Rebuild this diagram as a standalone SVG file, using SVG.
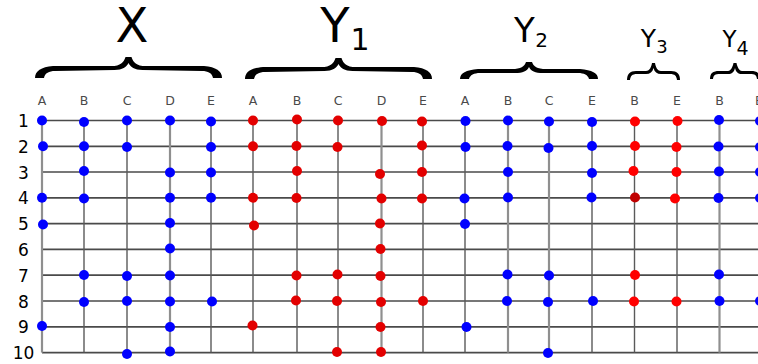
<svg xmlns="http://www.w3.org/2000/svg" width="758" height="364" viewBox="0 0 758 364">
<style>
.t{font-family:"DejaVu Sans","Liberation Sans",sans-serif;fill:#000;text-anchor:middle}
.cl{font-family:"DejaVu Sans","Liberation Sans",sans-serif;font-size:12.5px;fill:#4a4a4a;text-anchor:middle}
.rl{font-family:"DejaVu Sans","Liberation Sans",sans-serif;font-size:17px;fill:#000;text-anchor:middle}
.h{stroke:#4a4a4a;stroke-width:1.7}
.v{stroke:#5a5a5a;stroke-width:1.4}
.vl{stroke:#8f8f8f;stroke-width:2.2}
.b{fill:#0000ff}
.r{fill:#e30000}
.r2{fill:#ff0000}
.br{fill:#000}
</style>
<rect width="758" height="364" fill="#fff"/>

<g id="titles">
<text class="t" x="132" y="42" font-size="48">X</text>
<text class="t" x="335" y="42" font-size="48">Y</text>
<text class="t" x="360" y="50" font-size="30">1</text>
<text class="t" x="524.5" y="42" font-size="34">Y</text>
<text class="t" x="541.5" y="47" font-size="20">2</text>
<text class="t" x="648.5" y="47" font-size="25">Y</text>
<text class="t" x="662" y="53" font-size="18">3</text>
<text class="t" x="729.5" y="47" font-size="23">Y</text>
<text class="t" x="742.5" y="55" font-size="19">4</text>
</g>

<g id="braces" class="br">
<path transform="translate(35,57)" d="M0,21 C0,14 6,10 18,9 L79.5,9 C87.5,8 89.5,3 90.5,0 L96.5,0 C97.5,3 99.5,8 107.5,9 L169,9 C181,10 187,14 187,21 L178,21 C177,16 173,14 167,14 L107.5,13 C99.5,13 95.5,10 93.5,6 C91.5,10 87.5,13 79.5,13 L20,14 C14,14 10,16 9,21 Z"/>
<path transform="translate(245,58)" d="M0,21 C0,14 6,10 18,9 L79.5,9 C87.5,8 89.5,3 90.5,0 L96.5,0 C97.5,3 99.5,8 107.5,9 L169,9 C181,10 187,14 187,21 L178,21 C177,16 173,14 167,14 L107.5,13 C99.5,13 95.5,10 93.5,6 C91.5,10 87.5,13 79.5,13 L20,14 C14,14 10,16 9,21 Z"/>
<path transform="translate(460,62)" d="M0,17 C0,11 6,8 18,7 L55,7 C63,6 65,3 66,0 L72,0 C73,3 75,6 83,7 L120,7 C132,8 138,11 138,17 L129,17 C128,13 124,11 118,11 L83,11 C75,11 71,9 69,5 C67,9 63,11 55,11 L20,11 C14,11 10,13 9,17 Z"/>
<path transform="translate(627,63)" d="M0,17 C0,11 3,8 9,8 L19,8 C23,8 24.5,3 25,0 L28,0 C28.5,3 30,8 34,8 L44,8 C50,8 53,11 53,17 L50,17 C49.5,13 48,11 43,11 L34,11 C30,11 27.5,9 26.5,5 C25.5,9 23,11 19,11 L10,11 C5,11 3.5,13 3,17 Z"/>
<path transform="translate(710,63)" d="M0,16 C0,10 3,8 9,8 L18,8 C21,8 23,3 23.5,0 L26.5,0 C27,3 29,8 32,8 L41,8 C47,8 50,10 50,16 L47,16 C46.5,12 45,11 40,11 L32,11 C28,11 26,9 25,5 C24,9 22,11 18,11 L10,11 C5,11 3.5,12 3,16 Z"/>
</g>

<g id="column-labels">
<text class="cl" x="42" y="105">A</text><text class="cl" x="84" y="105">B</text><text class="cl" x="127" y="105">C</text><text class="cl" x="170" y="105">D</text><text class="cl" x="211" y="105">E</text>
<text class="cl" x="253" y="105">A</text><text class="cl" x="297" y="105">B</text><text class="cl" x="338" y="105">C</text><text class="cl" x="381.5" y="105">D</text><text class="cl" x="423" y="105">E</text>
<text class="cl" x="465" y="105">A</text><text class="cl" x="508" y="105">B</text><text class="cl" x="549" y="105">C</text><text class="cl" x="592" y="105">E</text>
<text class="cl" x="634.5" y="105">B</text><text class="cl" x="677" y="105">E</text>
<text class="cl" x="719.5" y="105">B</text><text class="cl" x="759" y="105">E</text>
</g>

<g id="row-labels">
<text class="rl" x="23.5" y="127">1</text>
<text class="rl" x="23.5" y="152.8">2</text>
<text class="rl" x="23.5" y="178.5">3</text>
<text class="rl" x="23.5" y="204.3">4</text>
<text class="rl" x="23.5" y="230.1">5</text>
<text class="rl" x="23.5" y="255.9">6</text>
<text class="rl" x="23.5" y="281.7">7</text>
<text class="rl" x="23.5" y="307.5">8</text>
<text class="rl" x="23.5" y="333.3">9</text>
<text class="rl" x="23.5" y="359.1">10</text>
</g>

<g id="connectors">
<g class="h">
<line x1="42" y1="120.5" x2="758" y2="120.5"/>
<line x1="42" y1="146.3" x2="758" y2="146.3"/>
<line x1="42" y1="172" x2="758" y2="172"/>
<line x1="42" y1="197.8" x2="758" y2="197.8"/>
<line x1="42" y1="223.6" x2="758" y2="223.6"/>
<line x1="42" y1="249.4" x2="758" y2="249.4"/>
<line x1="42" y1="275.2" x2="758" y2="275.2"/>
<line x1="42" y1="301" x2="758" y2="301"/>
<line x1="42" y1="326.8" x2="758" y2="326.8"/>
<line x1="42" y1="352.6" x2="758" y2="352.6"/>
</g>
<g class="vl">
<line x1="42" y1="120.5" x2="42" y2="352.6"/>
<line x1="170" y1="120.5" x2="170" y2="352.6"/>
<line x1="381.5" y1="120.5" x2="381.5" y2="352.6"/>
<line x1="508" y1="120.5" x2="508" y2="352.6"/>
<line x1="549" y1="120.5" x2="549" y2="352.6"/>
<line x1="719.5" y1="120.5" x2="719.5" y2="352.6"/>
</g>
<g class="v">
<line x1="84" y1="120.5" x2="84" y2="352.6"/>
<line x1="127" y1="120.5" x2="127" y2="352.6"/>
<line x1="211" y1="120.5" x2="211" y2="352.6"/>
<line x1="253" y1="120.5" x2="253" y2="352.6"/>
<line x1="297" y1="120.5" x2="297" y2="352.6"/>
<line x1="338" y1="120.5" x2="338" y2="352.6"/>
<line x1="423" y1="120.5" x2="423" y2="352.6"/>
<line x1="465" y1="120.5" x2="465" y2="352.6"/>
<line x1="592" y1="120.5" x2="592" y2="352.6"/>
<line x1="634.5" y1="120.5" x2="634.5" y2="352.6"/>
<line x1="677" y1="120.5" x2="677" y2="352.6"/>
</g>
</g>

<g id="dots-X" class="b">
<circle cx="42" cy="120.5" r="5"/><circle cx="84" cy="122" r="5"/><circle cx="127" cy="120.5" r="5"/><circle cx="170" cy="120.5" r="5"/><circle cx="211" cy="121.5" r="5"/>
<circle cx="43" cy="146.3" r="5"/><circle cx="84" cy="146.3" r="5"/><circle cx="127" cy="147" r="5"/><circle cx="211" cy="147" r="5"/>
<circle cx="84" cy="171" r="5"/><circle cx="170" cy="172.5" r="5"/><circle cx="211" cy="172.5" r="5"/>
<circle cx="42" cy="197.8" r="5"/><circle cx="84" cy="198.5" r="5"/><circle cx="170" cy="197.8" r="5"/><circle cx="211" cy="197.8" r="5"/>
<circle cx="43" cy="224.5" r="5"/><circle cx="170" cy="223" r="5"/>
<circle cx="170" cy="248.5" r="5"/>
<circle cx="84" cy="275" r="5"/><circle cx="127" cy="276" r="5"/><circle cx="170" cy="275.5" r="5"/>
<circle cx="84" cy="302" r="5"/><circle cx="127" cy="301" r="5"/><circle cx="170" cy="301.5" r="5"/><circle cx="212" cy="301.5" r="5"/>
<circle cx="42" cy="326" r="5"/><circle cx="170" cy="327" r="5"/>
<circle cx="127" cy="354" r="5"/><circle cx="170" cy="351.5" r="5"/>
</g>

<g id="dots-Y1" class="r">
<circle cx="253" cy="120.5" r="5"/><circle cx="297" cy="119.5" r="5"/><circle cx="338" cy="120.5" r="5"/><circle cx="382" cy="121" r="5"/><circle cx="422" cy="121.5" r="5"/>
<circle cx="253" cy="146.3" r="5"/><circle cx="296.5" cy="146" r="5"/><circle cx="337.5" cy="147" r="5"/><circle cx="422" cy="145.5" r="5"/>
<circle cx="297" cy="171" r="5"/><circle cx="380" cy="174" r="5"/><circle cx="422" cy="172" r="5"/>
<circle cx="253" cy="197.8" r="5"/><circle cx="296.5" cy="198" r="5"/><circle cx="381.5" cy="198.5" r="5"/><circle cx="422" cy="198.5" r="5"/>
<circle cx="254" cy="225.5" r="5"/><circle cx="380" cy="223.5" r="5"/>
<circle cx="380.5" cy="249" r="5"/>
<circle cx="296.5" cy="275.5" r="5"/><circle cx="337.5" cy="274.5" r="5"/><circle cx="380.5" cy="276" r="5"/>
<circle cx="296" cy="300.5" r="5"/><circle cx="337" cy="301" r="5"/><circle cx="381" cy="302" r="5"/><circle cx="423" cy="301" r="5"/>
<circle cx="252.5" cy="325.5" r="5"/><circle cx="380.5" cy="327" r="5"/>
<circle cx="337" cy="352" r="5"/><circle cx="381" cy="352" r="5"/>
</g>

<g id="dots-Y2" class="b">
<circle cx="465.5" cy="121" r="5"/><circle cx="508" cy="120.5" r="5"/><circle cx="549" cy="121.5" r="5"/><circle cx="592" cy="122" r="5"/>
<circle cx="465.5" cy="147" r="5"/><circle cx="507.5" cy="146" r="5"/><circle cx="548.5" cy="148" r="5"/><circle cx="592" cy="146" r="5"/>
<circle cx="508" cy="172" r="5"/><circle cx="592" cy="173" r="5"/>
<circle cx="464.5" cy="198.5" r="5"/><circle cx="508" cy="197.5" r="5"/><circle cx="591.5" cy="197.5" r="5"/>
<circle cx="465" cy="224" r="5"/>
<circle cx="507.5" cy="274.5" r="5"/><circle cx="549" cy="275.5" r="5"/>
<circle cx="507" cy="301" r="5"/><circle cx="548" cy="302" r="5"/><circle cx="593" cy="301" r="5"/>
<circle cx="466.5" cy="327" r="5"/>
<circle cx="548" cy="353" r="5"/>
</g>

<g id="dots-Y3" class="r2">
<circle cx="635" cy="121.5" r="5"/><circle cx="677.5" cy="121" r="5"/>
<circle cx="635" cy="146" r="5"/><circle cx="676.5" cy="147" r="5"/>
<circle cx="633.5" cy="171" r="5"/><circle cx="676.5" cy="172" r="5"/>
<circle cx="635" cy="197.5" r="5" fill="#c00000"/><circle cx="675" cy="198.5" r="5"/>
<circle cx="635" cy="275" r="5"/>
<circle cx="634" cy="301.5" r="5"/><circle cx="676.5" cy="301.5" r="5"/>
</g>

<g id="dots-Y4" class="b">
<circle cx="719" cy="120" r="5"/><circle cx="760" cy="121" r="5"/>
<circle cx="718.5" cy="146.5" r="5"/><circle cx="760" cy="147" r="5"/>
<circle cx="719" cy="171.5" r="5"/><circle cx="760" cy="172" r="5"/>
<circle cx="718.5" cy="198" r="5"/><circle cx="760" cy="198" r="5"/>
<circle cx="719" cy="274.5" r="5"/>
<circle cx="719.5" cy="301" r="5"/><circle cx="760" cy="301" r="5"/>
</g>
</svg>
